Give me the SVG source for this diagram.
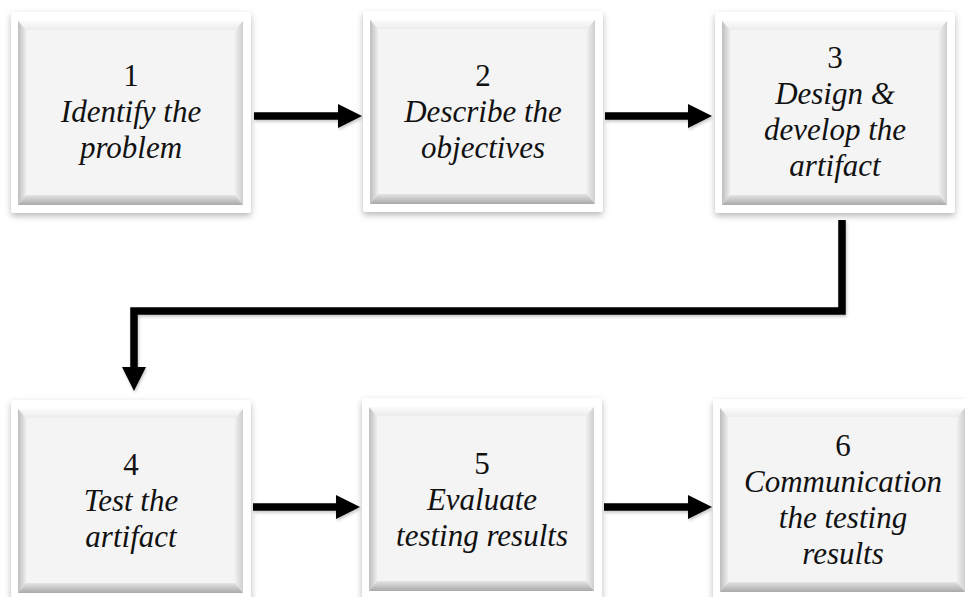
<svg xmlns="http://www.w3.org/2000/svg" width="965" height="597" viewBox="0 0 965 597">
  <style>
    .num { font-family: "Liberation Serif", serif; font-size: 31px; fill: #111; text-anchor: middle; }
    .lbl { font-family: "Liberation Serif", serif; font-size: 31px; font-style: italic; fill: #111; text-anchor: middle; }
    .link { fill: none; stroke: #000; stroke-width: 7.5; stroke-linejoin: miter; stroke-linecap: butt; }
  </style>
  <defs>
    <filter id="soft" x="-10%" y="-10%" width="120%" height="125%">
      <feDropShadow dx="0" dy="3" stdDeviation="3" flood-color="#000" flood-opacity="0.28"/>
    </filter>
    <filter id="lineShade" x="-10%" y="-30%" width="120%" height="160%">
      <feDropShadow dx="1" dy="2" stdDeviation="1.5" flood-color="#000" flood-opacity="0.22"/>
    </filter>
    <linearGradient id="bvTop" x1="0" y1="0" x2="0" y2="1">
      <stop offset="0" stop-color="#fbfbfb"/>
      <stop offset="1" stop-color="#ececec"/>
    </linearGradient>
    <linearGradient id="bvLeft" x1="0" y1="0" x2="1" y2="0">
      <stop offset="0" stop-color="#bdbdbd"/>
      <stop offset="1" stop-color="#ededed"/>
    </linearGradient>
    <linearGradient id="bvRight" x1="1" y1="0" x2="0" y2="0">
      <stop offset="0" stop-color="#cfcfcf"/>
      <stop offset="1" stop-color="#efefef"/>
    </linearGradient>
    <linearGradient id="bvBottom" x1="0" y1="0" x2="0" y2="1">
      <stop offset="0" stop-color="#e4e4e4"/>
      <stop offset="1" stop-color="#a9a9a9"/>
    </linearGradient>
    <!-- bevelled card: white frame around a raised grey panel -->
    <symbol id="card" viewBox="0 0 240 201" width="240" height="201" overflow="visible">
      <rect x="0" y="0" width="240" height="201" rx="3" fill="#fff" filter="url(#soft)"/>
      <rect x="7" y="9" width="225" height="184" fill="#f4f4f4"/>
      <polygon points="7,9 232,9 224,18 15,18" fill="url(#bvTop)"/>
      <polygon points="7,9 15,18 15,183 7,193" fill="url(#bvLeft)"/>
      <polygon points="232,9 232,193 224,183 224,18" fill="url(#bvRight)"/>
      <polygon points="7,193 15,183 224,183 232,193" fill="url(#bvBottom)"/>
    </symbol>
    <symbol id="cardWide" viewBox="0 0 260 201" width="260" height="201" overflow="visible">
      <rect x="0" y="0" width="260" height="201" rx="3" fill="#fff" filter="url(#soft)"/>
      <rect x="7" y="9" width="245" height="184" fill="#f4f4f4"/>
      <polygon points="7,9 252,9 244,18 15,18" fill="url(#bvTop)"/>
      <polygon points="7,9 15,18 15,183 7,193" fill="url(#bvLeft)"/>
      <polygon points="252,9 252,193 244,183 244,18" fill="url(#bvRight)"/>
      <polygon points="7,193 15,183 244,183 252,193" fill="url(#bvBottom)"/>
    </symbol>
    <marker id="head" markerUnits="userSpaceOnUse" markerWidth="25" markerHeight="24" refX="0" refY="12" orient="auto" overflow="visible">
      <path d="M0,0 L24,12 L0,24 Z" fill="#000"/>
    </marker>
  </defs>

  <rect width="965" height="597" fill="#fff"/>

  <!-- flow connectors -->
  <g id="connectors" filter="url(#lineShade)">
    <path class="link" d="M254,116 H338" marker-end="url(#head)"/>
    <path class="link" d="M605,116 H688" marker-end="url(#head)"/>
    <path class="link" d="M842,220 V311 H134 V367" marker-end="url(#head)"/>
    <path class="link" d="M253,507 H336" marker-end="url(#head)"/>
    <path class="link" d="M604,507 H688" marker-end="url(#head)"/>
  </g>

  <g id="node1">
    <use href="#card" x="11" y="12"/>
    <text class="num" x="131" y="86">1</text>
    <text class="lbl" x="131" y="122">Identify the</text>
    <text class="lbl" x="131" y="158">problem</text>
  </g>

  <g id="node2">
    <use href="#card" x="363" y="11"/>
    <text class="num" x="483" y="86">2</text>
    <text class="lbl" x="483" y="122">Describe the</text>
    <text class="lbl" x="483" y="158">objectives</text>
  </g>

  <g id="node3">
    <use href="#card" x="715" y="12"/>
    <text class="num" x="835" y="68">3</text>
    <text class="lbl" x="835" y="104">Design &amp;</text>
    <text class="lbl" x="835" y="140">develop the</text>
    <text class="lbl" x="835" y="176">artifact</text>
  </g>

  <g id="node4">
    <use href="#card" x="11" y="400"/>
    <text class="num" x="131" y="475">4</text>
    <text class="lbl" x="131" y="511">Test the</text>
    <text class="lbl" x="131" y="547">artifact</text>
  </g>

  <g id="node5">
    <use href="#card" x="362" y="398"/>
    <text class="num" x="482" y="474">5</text>
    <text class="lbl" x="482" y="510">Evaluate</text>
    <text class="lbl" x="482" y="546">testing results</text>
  </g>

  <g id="node6">
    <use href="#cardWide" x="713" y="399"/>
    <text class="num" x="843" y="456">6</text>
    <text class="lbl" x="843" y="492">Communication</text>
    <text class="lbl" x="843" y="528">the testing</text>
    <text class="lbl" x="843" y="564">results</text>
  </g>
</svg>
